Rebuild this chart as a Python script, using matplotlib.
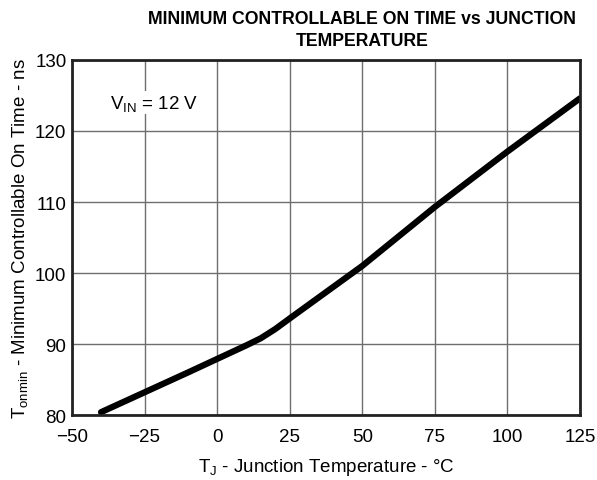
import matplotlib
matplotlib.use("Agg")
import matplotlib.pyplot as plt

plt.rcParams['font.family'] = ['Liberation Sans', 'DejaVu Sans']
plt.rcParams['mathtext.default'] = 'regular'

# values
temp_c = [-40, -25, -10, 0, 10, 15, 20, 25, 50, 75, 100, 125]
ton_ns = [80.4, 83.2, 86.0, 87.9, 89.8, 90.8, 92.1, 93.6, 101.0, 109.3, 117.1, 124.6]

x_ticks = [-50, -25, 0, 25, 50, 75, 100, 125]
y_ticks = [80, 90, 100, 110, 120, 130]

fig = plt.figure(figsize=(5.97, 4.81), dpi=100)
ax = fig.add_axes([0.1206, 0.1351, 0.8509, 0.7381])

ax.plot(temp_c, ton_ns, color='black', linewidth=4.5,
        solid_capstyle='round', solid_joinstyle='round')

ax.set_xlim(-50, 125)
ax.set_ylim(80, 130)
ax.set_xticks(x_ticks)
ax.set_yticks(y_ticks)
ax.tick_params(length=0, labelsize=13.5)
ax.tick_params(axis='x', pad=9)
ax.tick_params(axis='y', pad=4)
ax.grid(True, color='#6e6e6e', linewidth=1.0)
ax.set_axisbelow(True)
for s in ax.spines.values():
    s.set_linewidth(2)
    s.set_color('#222222')

ax.text(-37, 124, r'V$_{IN}$ = 12 V', fontsize=13.5, va='center', ha='left',
        bbox=dict(facecolor='white', edgecolor='none', pad=1))

ax.set_xlabel(r'T$_J$ - Junction Temperature - °C', fontsize=13.5, labelpad=8)
ax.set_ylabel(r'T$_{onmin}$ - Minimum Controllable On Time - ns', fontsize=13.5, labelpad=4)

fig.text(0.606, 0.978, 'MINIMUM CONTROLLABLE ON TIME vs JUNCTION\nTEMPERATURE',
         ha='center', va='top', fontsize=12.7, fontweight='bold', linespacing=1.45)

fig.savefig('out.png', dpi=100)
